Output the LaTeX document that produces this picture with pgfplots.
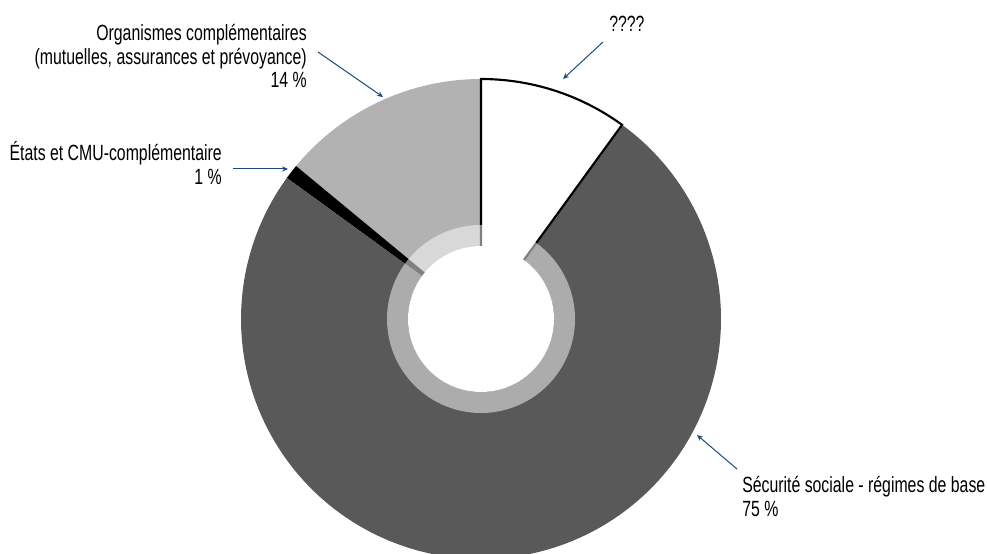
\documentclass[border=0pt]{standalone}
\usepackage{pgfplots}
\pgfplotsset{compat=1.18}
\usepackage{pgfplotstable}
\usepackage{fontspec}
\setmainfont[FakeStretch=0.72]{Liberation Sans}
\usetikzlibrary{arrows.meta}
\definecolor{sliceA}{RGB}{178,178,178}
\definecolor{sliceC}{RGB}{89,89,89}
\definecolor{arrowblue}{RGB}{31,73,125}
\newcommand\lbl{\fontsize{16.5pt}{19pt}\selectfont}

% share of each part, in %, counter-clockwise from 12 o'clock
\pgfplotstableread{
part pct
0 14
1 1
2 75
3 10
}\pietable

\begin{document}
\begin{tikzpicture}
\pgfplotstablegetelem{0}{pct}\of\pietable \edef\pA{\pgfplotsretval}
\pgfplotstablegetelem{1}{pct}\of\pietable \edef\pB{\pgfplotsretval}
\pgfplotstablegetelem{2}{pct}\of\pietable \edef\pC{\pgfplotsretval}
\pgfplotstablegetelem{3}{pct}\of\pietable \edef\pD{\pgfplotsretval}
\pgfmathsetmacro\aA{90}
\pgfmathsetmacro\aB{\aA+3.6*\pA}
\pgfmathsetmacro\aC{\aB+3.6*\pB}
\pgfmathsetmacro\aD{\aC+3.6*\pC}
\pgfmathsetmacro\aE{\aD+3.6*\pD}
\begin{axis}[hide axis, scale only axis, width=740.25pt, height=414.75pt,
  xmin=0, xmax=987, ymin=0, ymax=553, clip=false]
\addplot[fill=sliceA, draw=none, domain=\aA:\aB, samples=60, variable=\t]
  ({481+240*cos(\t)},{234+240*sin(\t)}) -- (axis cs:481,234) -- cycle;
\addplot[fill=black, draw=none, domain=\aB:\aC, samples=10, variable=\t]
  ({481+240*cos(\t)},{234+240*sin(\t)}) -- (axis cs:481,234) -- cycle;
\addplot[fill=sliceC, draw=none, domain=\aC:\aD, samples=240, variable=\t]
  ({481+240*cos(\t)},{234+240*sin(\t)}) -- (axis cs:481,234) -- cycle;
\addplot[fill=white, draw=black, line width=1.6pt, domain=\aD:\aE, samples=40, variable=\t]
  ({481+240*cos(\t)},{234+240*sin(\t)}) -- (axis cs:481,234) -- cycle;
% translucent inner ring
\addplot[white, opacity=0.5, line width=15.75pt, domain=0:360, samples=181, variable=\t]
  ({481+83.5*cos(\t)},{234+83.5*sin(\t)}) -- cycle;
% hole
\addplot[fill=white, draw=none, domain=0:360, samples=181, variable=\t]
  ({481+73*cos(\t)},{234+73*sin(\t)}) -- cycle;
% annotations
\draw[arrowblue, line width=0.75pt, -{Stealth[length=4.5pt,width=4pt]}] (axis cs:603,511) -- (axis cs:563,474);
\draw[arrowblue, line width=0.75pt, -{Stealth[length=4.5pt,width=4pt]}] (axis cs:318,501) -- (axis cs:383,456);
\draw[arrowblue, line width=0.75pt, -{Stealth[length=4.5pt,width=4pt]}] (axis cs:233,384) -- (axis cs:288,384);
\draw[arrowblue, line width=0.75pt, -{Stealth[length=4.5pt,width=4pt]}] (axis cs:737,84) -- (axis cs:697,118);
\node[anchor=base west, inner sep=0pt, font=\lbl] at (axis cs:609,521) {????};
\node[anchor=base east, inner sep=0pt, font=\lbl] at (axis cs:307,512) {Organismes complémentaires};
\node[anchor=base east, inner sep=0pt, font=\lbl] at (axis cs:307,488.5) {(mutuelles, assurances et prévoyance)};
\node[anchor=base east, inner sep=0pt, font=\lbl] at (axis cs:307,465) {14~\%};
\node[anchor=base east, inner sep=0pt, font=\lbl] at (axis cs:222,392) {États et CMU-complémentaire};
\node[anchor=base east, inner sep=0pt, font=\lbl] at (axis cs:222,368.5) {1~\%};
\node[anchor=base west, inner sep=0pt, font=\lbl] at (axis cs:742,61) {Sécurité sociale - régimes de base};
\node[anchor=base west, inner sep=0pt, font=\lbl] at (axis cs:742,37) {75~\%};
\end{axis}
\pgfresetboundingbox
\useasboundingbox (current axis.south west) rectangle (current axis.north east);
\end{tikzpicture}
\end{document}
